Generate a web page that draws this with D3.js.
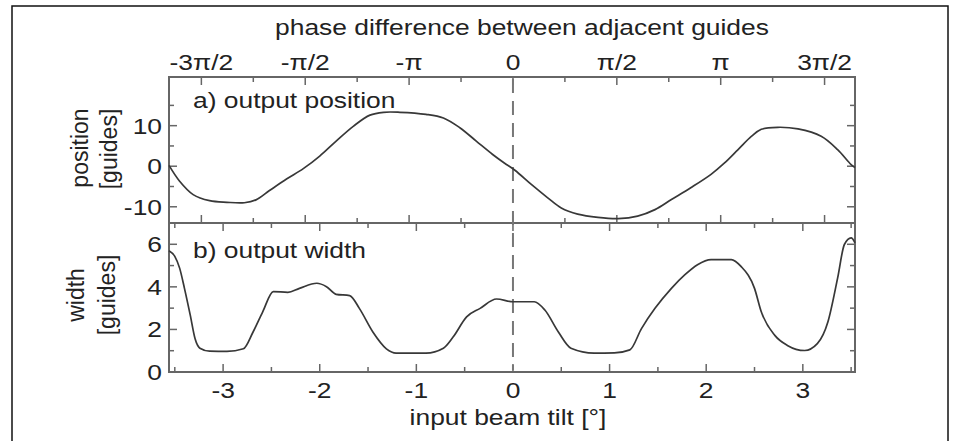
<html>
<head>
<script src="https://d3js.org/d3.v7.min.js"></script>
<style>
  body { margin: 0; background: #fff; }
  text { font-family: "Liberation Sans", Arial, sans-serif; fill: #222; }
</style>
</head>
<body>
<svg width="955" height="441"></svg>
<script>
// input beam tilt [deg] and measured values
var tiltA = [-3.56, -3.45, -3.31, -3.14, -2.96, -2.78, -2.66, -2.52, -2.34, -2.17, -2.0, -1.83, -1.65, -1.48, -1.34, -1.17, -0.90, -0.72, -0.55, -0.38, -0.21, -0.09, 0.02, 0.19, 0.36, 0.50, 0.67, 0.88, 1.09, 1.29, 1.47, 1.64, 1.84, 2.05, 2.19, 2.33, 2.47, 2.57, 2.74, 2.95, 3.19, 3.36, 3.50, 3.54];
var position = [0.2, -3.7, -7.0, -8.5, -8.9, -9.0, -8.3, -6.0, -3.1, -0.6, 2.5, 6.2, 9.9, 12.6, 13.3, 13.3, 12.8, 11.9, 9.5, 6.2, 2.9, 0.8, -1.0, -4.5, -7.8, -10.3, -11.8, -12.6, -12.9, -12.3, -10.7, -8.2, -5.3, -2.0, 0.8, 4.1, 7.4, 9.1, 9.6, 9.2, 7.4, 4.1, 0.4, -0.3];

var tiltB = [-3.56, -3.50, -3.45, -3.40, -3.34, -3.29, -3.24, -3.14, -2.96, -2.79, -2.69, -2.59, -2.48, -2.33, -2.21, -2.03, -1.93, -1.83, -1.69, -1.59, -1.45, -1.31, -1.21, -0.90, -0.72, -0.62, -0.48, -0.34, -0.17, 0.0, 0.22, 0.33, 0.47, 0.60, 0.84, 1.05, 1.21, 1.33, 1.47, 1.64, 1.78, 1.91, 2.05, 2.26, 2.36, 2.50, 2.57, 2.71, 2.84, 3.02, 3.15, 3.26, 3.36, 3.43, 3.50, 3.54];
var width = [5.7, 5.43, 4.88, 3.93, 2.67, 1.56, 1.12, 0.98, 0.97, 1.09, 1.88, 2.83, 3.78, 3.74, 3.93, 4.17, 4.01, 3.65, 3.59, 2.99, 1.88, 1.09, 0.89, 0.89, 1.12, 1.64, 2.59, 2.99, 3.43, 3.30, 3.30, 2.91, 1.88, 1.12, 0.89, 0.90, 1.04, 2.04, 2.99, 3.93, 4.57, 5.04, 5.28, 5.28, 4.96, 3.93, 2.83, 1.72, 1.25, 1.01, 1.33, 2.36, 4.41, 5.99, 6.30, 6.07];

var tiltTicks = [-3, -2, -1, 0, 1, 2, 3];
var tiltMinor = [-3.5, -2.5, -1.5, -0.5, 0.5, 1.5, 2.5, 3.5];
var phaseTicks = [-1.5, -1.0, -0.5, 0, 0.5, 1.0, 1.5];           // in units of pi
var phaseMinor = [-1.25, -0.75, -0.25, 0.25, 0.75, 1.25];
var phaseLabels = ["-3\u03c0/2", "-\u03c0/2", "-\u03c0", "0", "\u03c0/2", "\u03c0", "3\u03c0/2"];
var posTicks = [-10, 0, 10];
var posMinor = [-5, 5, 15];
var widthTicks = [0, 2, 4, 6];
var widthMinor = [1, 3, 5];

var svg = d3.select("svg");
var left = 169, right = 855, topA = 77, mid = 223, bottom = 372;
var degPerHalfPi = 1.075;

var x = d3.scaleLinear().domain([-3.56, 3.54]).range([left, right]);
// phase axis in units of pi, linear in tilt
var xp = d3.scaleLinear().domain(x.domain().map(function(d) { return d / degPerHalfPi * 0.5; })).range([left, right]);
var yA = d3.scaleLinear().domain([-14, 22]).range([mid, topA]);
var yB = d3.scaleLinear().domain([0, 7]).range([bottom, mid]);

// outer frame
svg.append("rect").attr("x", 12).attr("y", 6).attr("width", 936).attr("height", 460)
  .attr("fill", "none").attr("stroke", "#111").attr("stroke-width", 1.5);

function stretched(sel, x0, y0, sx) {
  return sel.attr("transform", "translate(" + x0 + "," + y0 + ") scale(" + sx + ",1)");
}

var axisCol = "#666";
// ticks
function vTicks(vals, scale, y0, dir, len) {
  svg.append("g").selectAll("line").data(vals).enter().append("line")
    .attr("x1", function(d) { return scale(d); }).attr("x2", function(d) { return scale(d); })
    .attr("y1", y0).attr("y2", y0 + dir * len)
    .attr("stroke", axisCol).attr("stroke-width", 1.5);
}
function hTicks(vals, scale, x0, dir, len) {
  svg.append("g").selectAll("line").data(vals).enter().append("line")
    .attr("y1", function(d) { return scale(d); }).attr("y2", function(d) { return scale(d); })
    .attr("x1", x0).attr("x2", x0 + dir * len)
    .attr("stroke", axisCol).attr("stroke-width", 1.5);
}
vTicks(phaseTicks, xp, topA, 1, 8); vTicks(phaseMinor, xp, topA, 1, 5);
vTicks(phaseTicks, xp, mid, -1, 8); vTicks(phaseMinor, xp, mid, -1, 5);
vTicks(tiltTicks, x, mid, 1, 8); vTicks(tiltMinor, x, mid, 1, 5);
vTicks(tiltTicks, x, bottom, -1, 8); vTicks(tiltMinor, x, bottom, -1, 5);
hTicks(posTicks, yA, left, 1, 8); hTicks(posMinor, yA, left, 1, 5);
hTicks(posTicks, yA, right, -1, 8); hTicks(posMinor, yA, right, -1, 5);
hTicks(widthTicks, yB, left, 1, 8); hTicks(widthMinor, yB, left, 1, 5);
hTicks(widthTicks, yB, right, -1, 8); hTicks(widthMinor, yB, right, -1, 5);

// panel frames
[[topA, mid], [mid, bottom]].forEach(function(p) {
  svg.append("rect").attr("x", left).attr("y", p[0]).attr("width", right - left).attr("height", p[1] - p[0])
    .attr("fill", "none").attr("stroke", axisCol).attr("stroke-width", 2);
});

// dashed zero line
svg.append("line").attr("x1", x(0)).attr("x2", x(0)).attr("y1", topA + 2).attr("y2", bottom - 2)
  .attr("stroke", "#777").attr("stroke-width", 2).attr("stroke-dasharray", "14,8");

// curves
var lineA = d3.line().x(function(d, i) { return x(tiltA[i]); }).y(function(d) { return yA(d); }).curve(d3.curveCatmullRom);
var lineB = d3.line().x(function(d, i) { return x(tiltB[i]); }).y(function(d) { return yB(d); }).curve(d3.curveMonotoneX);
svg.append("path").attr("d", lineA(position)).attr("fill", "none").attr("stroke", "#383838").attr("stroke-width", 1.7);
svg.append("path").attr("d", lineB(width)).attr("fill", "none").attr("stroke", "#383838").attr("stroke-width", 1.7);

var fs = 22, sx = 1.2;
// tick labels
svg.append("g").selectAll("text").data(phaseTicks).enter().append("text")
  .attr("text-anchor", "middle").style("font-size", fs + "px")
  .each(function(d, i) { stretched(d3.select(this), xp(d), 70, sx); })
  .text(function(d, i) { return phaseLabels[i]; });
svg.append("g").selectAll("text").data(tiltTicks).enter().append("text")
  .attr("text-anchor", "middle").style("font-size", fs + "px")
  .each(function(d) { stretched(d3.select(this), x(d), 398, sx); })
  .text(function(d) { return d; });
svg.append("g").selectAll("text").data(posTicks).enter().append("text")
  .attr("text-anchor", "end").style("font-size", fs + "px")
  .each(function(d) { stretched(d3.select(this), 162, yA(d) + 8, sx); })
  .text(function(d) { return d; });
svg.append("g").selectAll("text").data(widthTicks).enter().append("text")
  .attr("text-anchor", "end").style("font-size", fs + "px")
  .each(function(d) { stretched(d3.select(this), 162, yB(d) + 8, sx); })
  .text(function(d) { return d; });

// titles
stretched(svg.append("text"), 522, 35, sx).attr("text-anchor", "middle").style("font-size", fs + "px")
  .text("phase difference between adjacent guides");
stretched(svg.append("text"), 508, 425, sx).attr("text-anchor", "middle").style("font-size", fs + "px")
  .text("input beam tilt [\u00b0]");
stretched(svg.append("text"), 193, 108, sx).style("font-size", fs + "px").text("a) output position");
stretched(svg.append("text"), 193, 258, sx).style("font-size", fs + "px").text("b) output width");

function yTitle(t, cx, cy) {
  svg.append("text").attr("transform", "translate(" + cx + "," + cy + ") rotate(-90)")
    .attr("text-anchor", "middle").style("font-size", "23px").text(t);
}
yTitle("position", 88, 148);
yTitle("[guides]", 117, 149);
yTitle("width", 84, 295);
yTitle("[guides]", 115, 295);
</script>
</body>
</html>
